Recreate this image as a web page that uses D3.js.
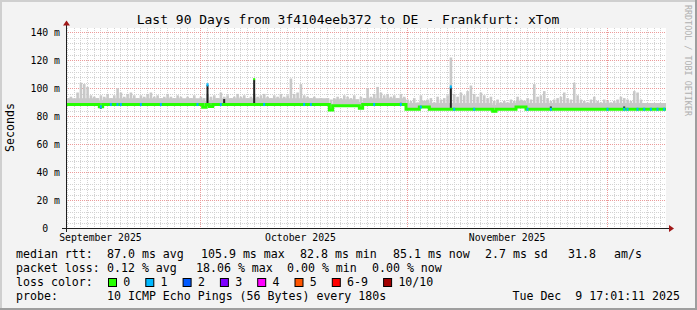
<!DOCTYPE html>
<html>
<head>
<meta charset="utf-8">
<script src="https://cdn.jsdelivr.net/npm/d3@7"></script>
<style>
  body { margin: 0; background: #f3f3f3; }
  svg { display: block; }
  text { font-family: "DejaVu Sans Mono", monospace; white-space: pre; }
</style>
</head>
<body>
<div id="chart"></div>
<script>
// one sample every 12 hours, first one at t0
const t0 = Date.UTC(2025, 8, 10, 20, 0);
const tEnd = Date.UTC(2025, 11, 9, 20, 0);
const stepMs = 12 * 3600 * 1000;

// median rtt (ms) per sample
const median = [
  88.4, 88.4, 88.4, 88.4, 88.4, 88.4, 88.4, 88.4, 88.4, 88.4,
  86.8, 88.4, 88.4, 88.4, 88.4, 88.4, 88.4, 88.4, 88.4, 88.4,
  88.4, 88.4, 88.4, 88.4, 88.4, 88.4, 88.4, 88.4, 88.4, 88.4,
  88.4, 88.4, 88.4, 88.4, 88.4, 88.4, 88.4, 88.4, 88.4, 88.4,
  88.4, 86.5, 88.4, 87.0, 88.4, 88.4, 88.4, 88.4, 88.4, 88.4,
  88.4, 88.4, 88.4, 88.4, 88.4, 88.4, 88.4, 88.4, 88.4, 88.4,
  88.4, 88.4, 88.4, 88.4, 88.4, 88.4, 88.4, 88.4, 88.4, 88.4,
  88.4, 88.4, 88.4, 88.4, 88.4, 88.4, 88.4, 88.4, 88.4, 84.5,
  87.6, 87.6, 87.6, 87.6, 87.6, 87.6, 87.6, 87.6, 85.8, 88.4,
  88.4, 88.4, 88.4, 88.4, 88.4, 88.4, 88.4, 88.4, 88.4, 88.4,
  88.4, 88.4, 85.0, 85.0, 85.0, 85.0, 86.6, 86.6, 86.6, 85.0,
  85.0, 85.0, 85.0, 85.0, 85.0, 85.0, 85.0, 85.0, 85.0, 85.0,
  85.0, 85.0, 85.0, 85.0, 85.0, 85.0, 85.0, 85.0, 83.6, 85.0,
  85.0, 85.0, 85.0, 85.0, 85.0, 86.6, 86.6, 86.6, 85.0, 85.0,
  85.0, 85.0, 85.0, 85.0, 85.0, 85.0, 85.0, 85.0, 85.0, 85.0,
  85.0, 85.0, 85.0, 85.0, 85.0, 85.0, 85.0, 85.0, 85.0, 85.0,
  85.0, 85.0, 85.0, 85.0, 85.0, 85.0, 85.0, 85.0, 85.0, 85.0,
  85.0, 85.0, 85.0, 85.0, 85.0, 85.0, 85.0, 85.0, 85.0, 85.0
];

// top of the smoke (highest ping, ms) per sample
const smokeTop = [
  93, 94, 92, 97, 104, 103, 101, 95, 94, 93,
  95, 94, 96, 93, 95, 100, 97, 94, 96, 97,
  95, 93, 95, 94, 96, 97, 94, 95, 93, 94,
  96, 94, 93, 95, 94, 92, 94, 93, 95, 92,
  94, 93, 96, 94, 95, 93, 97, 94, 95, 93,
  94, 96, 94, 95, 93, 94, 96, 94, 95, 96,
  94, 93, 95, 94, 96, 94, 95, 107, 96, 97,
  103, 95, 94, 93, 94, 92, 93, 92, 93, 92,
  93, 94, 93, 95, 94, 93, 95, 92, 94, 93,
  100, 94, 96, 101, 97, 95, 96, 94, 95, 93,
  96, 94, 92, 91, 93, 90, 95, 91, 92, 93,
  90, 94, 92, 93, 95, 122, 96, 94, 97, 95,
  98, 102, 96, 94, 97, 95, 93, 94, 91, 92,
  90, 91, 90, 92, 91, 94, 92, 91, 93, 92,
  103, 94, 95, 98, 93, 91, 92, 93, 94, 97,
  93, 92, 104, 95, 92, 91, 90, 92, 94, 91,
  90, 92, 91, 90, 91, 92, 94, 93, 92, 91,
  98, 97, 92, 89, 88, 89, 88, 88, 87, 88
];

// samples with 1/10 packet loss
const lossIdx = [10, 13, 15, 16, 22, 28, 39, 46, 59, 71, 73, 92, 100, 106, 116, 122,
                 138, 145, 162, 167, 168, 171, 173, 175, 177, 179];

// dark spikes: sample, value reached (ms), loss level at the tip
const spikeIdx = [10, 42, 47, 56, 100, 115, 128, 145, 167];
const spikeTop = [85.5, 102.5, 92.3, 106.2, 89.6, 101.0, 83.0, 87.0, 87.0];
const spikeLoss = [0, 1, 0, 0, 0, 1, 0, 0, 0];

const lossColors = ["#26ff00", "#00b8ff", "#0059ff", "#7e00ff", "#ff00ff", "#ff5500", "#ff0000", "#a10000"];
const lossLabels = ["0", "1", "2", "3", "4", "5", "6-9", "10/10"];

const yTicks = [0, 20, 40, 60, 80, 100, 120, 140];

const title = "Last 90 Days from 3f4104eeb372 to DE - Frankfurt: xTom";
const rttStats = ["87.0 ms avg", "105.9 ms max", "82.8 ms min", "85.1 ms now", "2.7 ms sd", "31.8", "am/s"];
const lossStats = ["0.12 % avg", "18.06 % max", "0.00 % min", "0.00 % now"];
const probeText = "10 ICMP Echo Pings (56 Bytes) every 180s";
const stamp = "Tue Dec  9 17:01:11 2025";

const W = 697, H = 310;
const svg = d3.select("#chart").append("svg").attr("width", W).attr("height", H);

// background + 3d frame
svg.append("rect").attr("width", W).attr("height", H).attr("fill", "#f3f3f3");
svg.append("rect").attr("width", W).attr("height", 2).attr("fill", "#cfcfcf");
svg.append("rect").attr("width", 2).attr("height", H).attr("fill", "#cfcfcf");
svg.append("rect").attr("y", H - 2).attr("width", W).attr("height", 2).attr("fill", "#9e9e9e");
svg.append("rect").attr("x", W - 2).attr("width", 2).attr("height", H).attr("fill", "#9e9e9e");

const x = d3.scaleUtc().domain([t0, tEnd]).range([66, 666]);
const y = d3.scaleLinear().domain([0, 143]).range([228.3, 28.1]);
const crisp = v => Math.round(v) + 0.5;

svg.append("rect").attr("x", 66).attr("y", 28).attr("width", 600).attr("height", 200).attr("fill", "#fff");

// grid
const grid = svg.append("g").attr("fill", "none").attr("stroke-dasharray", "1,1");
const months = d3.utcMonth.range(t0, tEnd);
const days = d3.utcDay.range(t0, tEnd).filter(d => d.getUTCDate() !== 1);
grid.selectAll(".vmin").data(days).join("line")
  .attr("x1", d => crisp(x(d))).attr("x2", d => crisp(x(d)))
  .attr("y1", 28).attr("y2", 228).attr("stroke", "#d2d2d2");
const minorY = d3.range(4, 144, 4).filter(v => v % 20 !== 0);
grid.selectAll(".hmin").data(minorY).join("line")
  .attr("x1", 66).attr("x2", 666)
  .attr("y1", d => crisp(y(d))).attr("y2", d => crisp(y(d))).attr("stroke", "#d2d2d2");
grid.selectAll(".vmaj").data(months).join("line")
  .attr("x1", d => crisp(x(d))).attr("x2", d => crisp(x(d)))
  .attr("y1", 28).attr("y2", 228).attr("stroke", "#ec9a9a");
grid.selectAll(".hmaj").data(yTicks.filter(v => v > 0)).join("line")
  .attr("x1", 66).attr("x2", 666)
  .attr("y1", d => crisp(y(d))).attr("y2", d => crisp(y(d))).attr("stroke", "#ec9a9a");

// smoke
const samples = median.map((m, i) => ({ t: t0 + i * stepMs, m, top: smokeTop[i] }));
const lastPt = { t: tEnd, m: median[median.length - 1] };
const smoke = svg.append("g").attr("fill", "#c8c8c8");
smoke.append("path")
  .attr("d", d3.area().curve(d3.curveStepAfter)
    .x(d => x(d.t)).y0(d => y(d.m)).y1(d => y(d.m + 4.5))(samples.concat([lastPt])));
smoke.selectAll("rect").data(samples).join("rect")
  .attr("x", d => x(d.t) + 0.3).attr("width", 2.6)
  .attr("y", d => y(d.top)).attr("height", d => y(d.m) - y(d.top));

// dark spikes
const spikes = spikeIdx.map((i, k) => ({ t: t0 + i * stepMs, m: median[i], top: spikeTop[k], loss: spikeLoss[k] }));
svg.append("g").selectAll("rect").data(spikes).join("rect")
  .attr("x", d => x(d.t) + 0.5).attr("width", 2)
  .attr("y", d => Math.min(y(d.top), y(d.m)))
  .attr("height", d => Math.abs(y(d.m) - y(d.top)))
  .attr("fill", "#222");

// median line
svg.append("path")
  .datum(samples.concat([lastPt]))
  .attr("fill", "none").attr("stroke", lossColors[0]).attr("stroke-width", 3)
  .attr("d", d3.line().curve(d3.curveStepAfter).x(d => x(d.t)).y(d => y(d.m)));

// loss marks on the median
svg.append("g").selectAll("rect").data(lossIdx).join("rect")
  .attr("x", i => x(t0 + i * stepMs) + 0.5).attr("width", 2)
  .attr("y", i => y(median[i]) - 1.5).attr("height", 3)
  .attr("fill", lossColors[1]);
svg.append("g").selectAll("rect").data(spikes.filter(d => d.loss > 0)).join("rect")
  .attr("x", d => x(d.t) + 0.5).attr("width", 2)
  .attr("y", d => y(d.top) - 1.5).attr("height", 3)
  .attr("fill", d => lossColors[d.loss]);
svg.append("g").selectAll("rect").data(spikes.filter(d => d.loss === 0 && d.top > d.m + 5)).join("rect")
  .attr("x", d => x(d.t) + 0.5).attr("width", 2)
  .attr("y", d => y(d.top) - 1.5).attr("height", 2)
  .attr("fill", lossColors[0]);

// axes
const axisCol = "#1f1f1f", arrowCol = "#a01818";
svg.append("line").attr("x1", 62).attr("x2", 670).attr("y1", 228.5).attr("y2", 228.5).attr("stroke", axisCol);
svg.append("line").attr("x1", 66.5).attr("x2", 66.5).attr("y1", 232).attr("y2", 24).attr("stroke", axisCol);
svg.append("path").attr("d", "M669,225L674,228.5L669,232Z").attr("fill", arrowCol);
svg.append("path").attr("d", "M63,25.5L66.5,20.5L70,25.5Z").attr("fill", arrowCol);

// y labels
svg.append("g").selectAll("text").data(yTicks).join("text")
  .attr("x", 60).attr("y", d => y(d) + 3.5).attr("text-anchor", "end")
  .attr("font-size", "9.8px").attr("fill", "#000")
  .text(d => d === 0 ? "0  " : d + " m");

// x labels, centred on the 16th of every month
const labelDates = d3.utcMonth.range(d3.utcMonth.floor(t0), tEnd)
  .map(d => d3.utcDay.offset(d, 15)).filter(d => d < tEnd);
svg.append("g").selectAll("text").data(labelDates).join("text")
  .attr("x", d => x(d)).attr("y", 241).attr("text-anchor", "middle")
  .attr("font-size", "9.8px").attr("fill", "#000")
  .text(d3.utcFormat("%B %Y"));

// titles
svg.append("text").attr("x", 348).attr("y", 24).attr("text-anchor", "middle")
  .attr("font-size", "13px").text(title);
svg.append("text").attr("transform", "translate(13.5,127.5) rotate(-90)")
  .attr("text-anchor", "middle").attr("font-size", "11.6px").text("Seconds");
svg.append("text").attr("transform", "translate(684.5,5) rotate(90)")
  .attr("font-size", "8.4px").attr("fill", "#b0b0b0").text("RRDTOOL / TOBI OETIKER");

// legend
const leg = svg.append("g").attr("font-size", "11.6px").attr("fill", "#000");
leg.append("text").attr("x", 16).attr("y", 258).text("median rtt:");
const rttX = [107, 201, 300, 393, 485, 568, 614];
rttStats.forEach((s, k) => leg.append("text").attr("x", rttX[k]).attr("y", 258).text(s));
leg.append("text").attr("x", 16).attr("y", 272).text("packet loss:");
const lossX = [107, 196, 287, 372];
lossStats.forEach((s, k) => leg.append("text").attr("x", lossX[k]).attr("y", 272).text(s));
leg.append("text").attr("x", 16).attr("y", 286).text("loss color:");
let lx = 108;
lossLabels.forEach((s, k) => {
  leg.append("rect").attr("x", lx + 0.5).attr("y", 278.5).attr("width", 8).attr("height", 8)
    .attr("fill", lossColors[k]).attr("stroke", "#000");
  leg.append("text").attr("x", lx + 15.3).attr("y", 286).text(s);
  lx += 15.3 + s.length * 7 + 15;
});
leg.append("text").attr("x", 16).attr("y", 300).text("probe:");
leg.append("text").attr("x", 107).attr("y", 300).text(probeText);
leg.append("text").attr("x", 680).attr("y", 300).attr("text-anchor", "end").text(stamp);
</script>
</body>
</html>
